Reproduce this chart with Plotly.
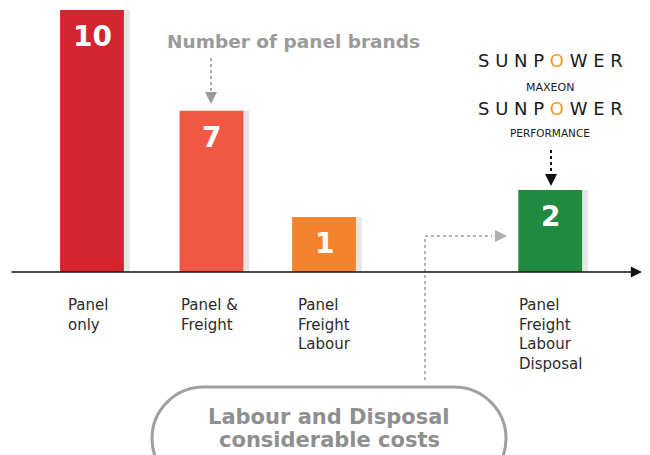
import plotly.graph_objects as go

# ---- data ----
categories = ["Panel<br>only", "Panel &<br>Freight", "Panel<br>Freight<br>Labour", "Panel<br>Freight<br>Labour<br>Disposal"]
brand_counts = [10, 7, 1, 2]            # number of panel brands (labels)
bar_heights = [100, 61.5, 21, 31.3]     # visual bar heights (relative)
slots = [0, 1.03, 2, 3.95]              # horizontal slot of each bar
bar_colors = ["#d42430", "#ee5844", "#f4832e", "#1f8a40"]
shadow_color = "rgba(60,60,60,0.13)"

W, H = 650, 455
X0_PX, X_UNIT = 92, 116
BASE_PX, Y_UNIT = 272, 2.62
xr = [-X0_PX / X_UNIT, (W - X0_PX) / X_UNIT]
yr = [-(H - BASE_PX) / Y_UNIT, BASE_PX / Y_UNIT]
label_xshift = [6, -1, 4, -1]


def px(x):
    return x / W


def py(y):
    return 1 - y / H


def note(x, y, text, font, **kw):
    d = dict(x=px(x), y=py(y), xref="paper", yref="paper", text=text, showarrow=False,
             xanchor="center", yanchor="middle", font=font)
    d.update(kw)
    return d


def arrowhead(x, y, ax, ay, color):
    return dict(x=px(x), y=py(y), xref="paper", yref="paper", ax=ax, ay=ay,
                axref="pixel", ayref="pixel", text="", showarrow=True,
                arrowhead=2, arrowsize=1.6, arrowwidth=1.5, arrowcolor=color)


fig = go.Figure()

fig.add_trace(go.Bar(
    x=[s + 0.045 for s in slots], y=bar_heights, width=0.56,
    marker=dict(color=shadow_color, line=dict(width=0)),
    hoverinfo="skip", showlegend=False,
))
fig.add_trace(go.Bar(
    x=slots, y=bar_heights, width=0.55,
    marker=dict(color=bar_colors, line=dict(width=0)),
    text=[str(c) for c in brand_counts], textposition="none",
    showlegend=False,
))

annotations = []
for s, h, c in zip(slots, bar_heights, brand_counts):
    annotations.append(dict(
        x=s, y=h, xref="x", yref="y", text=f"<b>{c}</b>", showarrow=False,
        xanchor="center", yanchor="top", yshift=-8,
        font=dict(family="DejaVu Sans", size=28, color="white", weight=800),
    ))
for s, cat, sh in zip(slots, categories, label_xshift):
    annotations.append(dict(
        x=s - 0.275, y=0, xref="x", yref="y", text=cat, showarrow=False,
        xanchor="left", yanchor="top", yshift=-22, xshift=sh, align="left",
        font=dict(family="DejaVu Sans", size=15, color="#2b2b2b"),
    ))

# axis arrow
annotations.append(dict(
    x=px(642), y=0, xref="paper", yref="y", ax=-632, ay=0, axref="pixel", ayref="pixel",
    text="", showarrow=True, arrowhead=2, arrowsize=1.4, arrowwidth=1.6, arrowcolor="#111",
))

annotations.append(note(293, 41, "<b>Number of panel brands</b>",
                        dict(family="DejaVu Sans", size=18.5, color="#9a9a9a")))
fig.add_shape(type="line", xref="paper", yref="paper", x0=px(211), x1=px(211), y0=py(58), y1=py(92),
              line=dict(color="#a8a8a8", width=2, dash="dot"))
annotations.append(arrowhead(211, 104, 0, -12, "#9a9a9a"))

orange = "#f39b1c"
sp = "S U N P <span style='color:%s'>O</span> W E R" % orange
annotations += [
    note(550, 61, sp, dict(family="DejaVu Sans", size=18, color="#1a1a1a")),
    note(550, 87, "MAXEON", dict(family="DejaVu Sans", size=11, color="#1a1a1a")),
    note(550, 108, sp, dict(family="DejaVu Sans", size=18, color="#1a1a1a")),
    note(550, 133, "PERFORMANCE", dict(family="DejaVu Sans", size=10.5, color="#1a1a1a")),
]
fig.add_shape(type="line", xref="paper", yref="paper", x0=px(551), x1=px(551), y0=py(150), y1=py(174),
              line=dict(color="#111", width=2, dash="dot"))
annotations.append(arrowhead(551, 186, 0, -12, "#111"))

fig.add_shape(type="line", xref="paper", yref="paper", x0=px(425), x1=px(425), y0=py(380), y1=py(236),
              line=dict(color="#b5b5b5", width=2, dash="dot"))
fig.add_shape(type="line", xref="paper", yref="paper", x0=px(425), x1=px(492), y0=py(236), y1=py(236),
              line=dict(color="#b5b5b5", width=2, dash="dot"))
annotations.append(arrowhead(507, 236, -14, 0, "#b0b0b0"))

L, R, T, B = 152, 506, 387, 490
r = (B - T) / 2
path = (f"M {px(L + r)},{py(T)} L {px(R - r)},{py(T)} "
        f"C {px(R - r + 0.55 * r)},{py(T)} {px(R)},{py(T + 0.45 * r)} {px(R)},{py(T + r)} "
        f"C {px(R)},{py(B - 0.45 * r)} {px(R - r + 0.55 * r)},{py(B)} {px(R - r)},{py(B)} "
        f"L {px(L + r)},{py(B)} "
        f"C {px(L + r - 0.55 * r)},{py(B)} {px(L)},{py(B - 0.45 * r)} {px(L)},{py(T + r)} "
        f"C {px(L)},{py(T + 0.45 * r)} {px(L + r - 0.55 * r)},{py(T)} {px(L + r)},{py(T)} Z")
fig.add_shape(type="path", xref="paper", yref="paper", path=path,
              line=dict(color="#a0a0a0", width=3), fillcolor="white", layer="below")
bubble_font = dict(family="DejaVu Sans", size=21, color="#8f8f8f")
annotations.append(note(329, 417, "<b>Labour and Disposal</b>", bubble_font, borderpad=0))
annotations.append(note(329, 440, "<b>considerable costs</b>", bubble_font, borderpad=0))

fig.update_layout(
    width=W, height=H, margin=dict(l=0, r=0, t=0, b=0, autoexpand=False),
    paper_bgcolor="white", plot_bgcolor="white",
    barmode="overlay", showlegend=False,
    xaxis=dict(range=xr, visible=False, fixedrange=True),
    yaxis=dict(range=yr, visible=False, fixedrange=True),
    annotations=annotations,
)

fig.write_html("out.html", config={"displayModeBar": False},
               post_script="document.body.style.margin='0';document.body.style.overflow='hidden';")
